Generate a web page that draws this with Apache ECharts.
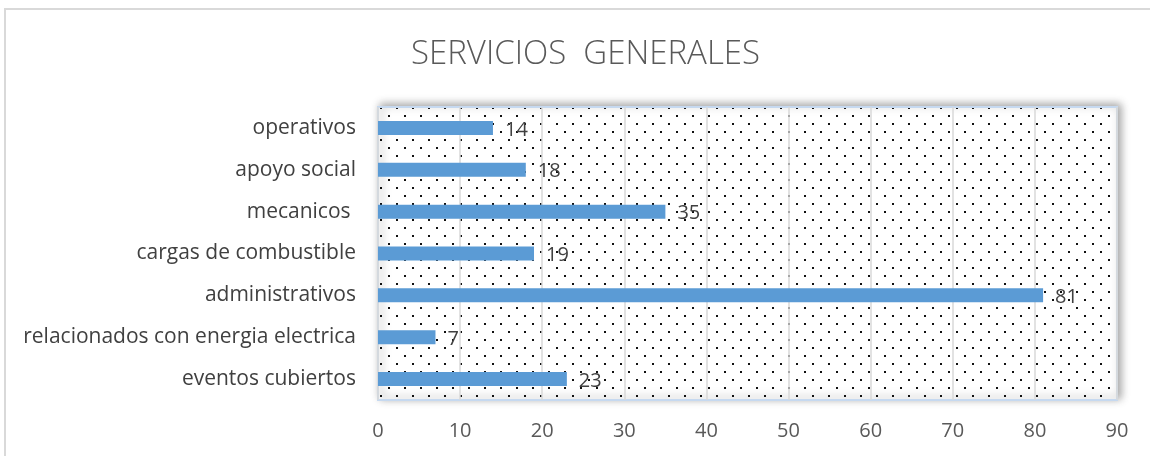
<!DOCTYPE html>
<html>
<head>
<meta charset="utf-8">
<script src="https://cdn.jsdelivr.net/npm/echarts@6/dist/echarts.min.js"></script>
<style>
  html, body { margin: 0; padding: 0; background: #fff; }
  #chart { width: 1150px; height: 456px; }
</style>
</head>
<body>
<div id="chart"></div>
<script>
// categorias de arriba hacia abajo
let categorias = [
  'operativos',
  'apoyo social',
  'mecanicos ',
  'cargas de combustible',
  'administrativos',
  'relacionados con energia electrica',
  'eventos cubiertos'
]
let valores = [14, 18, 35, 19, 81, 7, 23]
let ticks = [0, 10, 20, 30, 40, 50, 60, 70, 80, 90]

// trama de puntos del fondo
function dotPattern() {
  let c = document.createElement('canvas')
  c.width = 16
  c.height = 16
  let ctx = c.getContext('2d')
  ctx.fillStyle = '#fff'
  ctx.fillRect(0, 0, 16, 16)
  ctx.fillStyle = '#111'
  ctx.fillRect(4, 3, 2, 2)
  ctx.fillRect(12, 11, 2, 2)
  return c
}

let fuente = '"Open Sans", "Noto Sans", sans-serif'
let chart = echarts.init(document.getElementById('chart'))
chart.setOption({
  animation: false,
  backgroundColor: '#fff',
  textStyle: { fontFamily: fuente },
  title: {
    text: 'SERVICIOS  GENERALES',
    left: 406,
    top: 33,
    textStyle: {
      color: '#595959',
      fontSize: 33,
      fontWeight: 'lighter',
      fontFamily: fuente
    }
  },
  graphic: [{
    type: 'rect',
    shape: { x: 5, y: 9, width: 1200, height: 500 },
    style: { fill: 'none', stroke: '#d9d9d9', lineWidth: 2 },
    silent: true,
    z: -10
  }],
  grid: {
    left: 378,
    right: 33,
    top: 107,
    bottom: 56,
    show: true,
    backgroundColor: { image: dotPattern(), repeat: 'repeat' },
    borderColor: '#c6d9f0',
    borderWidth: 2,
    shadowColor: 'rgba(0,0,0,0.35)',
    shadowBlur: 8,
    shadowOffsetX: 3,
    shadowOffsetY: -2
  },
  xAxis: {
    type: 'value',
    min: ticks[0],
    max: ticks[ticks.length - 1],
    interval: 10,
    axisLine: { show: false },
    axisTick: { show: false },
    axisLabel: { color: '#595959', fontSize: 20, margin: 21 },
    splitLine: { lineStyle: { color: '#d9d9d9', width: 1.5 } }
  },
  yAxis: {
    type: 'category',
    inverse: true,
    data: categorias,
    axisLine: { show: false },
    axisTick: { show: false },
    axisLabel: { color: '#404040', fontSize: 21, margin: 22 }
  },
  series: [{
    type: 'bar',
    data: valores,
    barWidth: 14,
    itemStyle: { color: '#5b9bd5' },
    label: {
      show: true,
      position: 'right',
      distance: 12,
      offset: [0, 2],
      color: '#404040',
      fontSize: 20
    }
  }]
})
</script>
</body>
</html>
